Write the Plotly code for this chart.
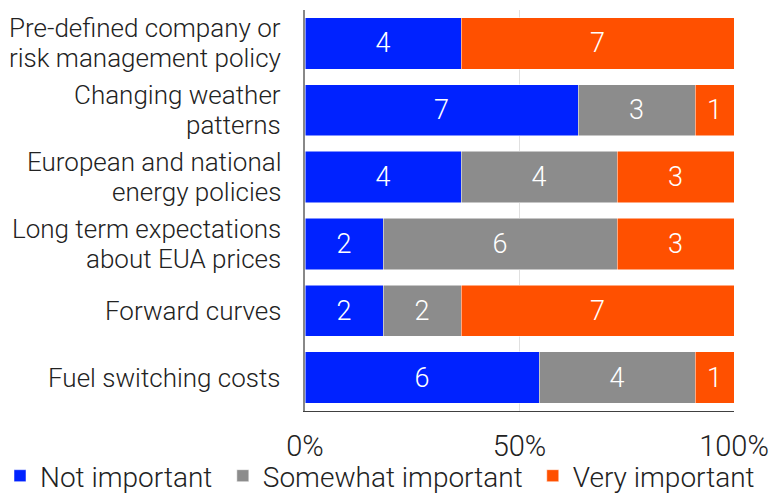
import plotly.graph_objects as go

categories = [
    "Pre-defined company or<br>risk management policy",
    "Changing weather<br>patterns",
    "European and national<br>energy policies",
    "Long term expectations<br>about EUA prices",
    "Forward curves",
    "Fuel switching costs",
]
not_important = [4, 7, 4, 2, 2, 6]
somewhat_important = [0, 3, 4, 6, 2, 4]
very_important = [7, 1, 3, 3, 7, 1]
tick_vals = [0, 50, 100]
tick_text = ["0%", "50%", "100%"]

series = [
    ("Not important", not_important, "#0022FF"),
    ("Somewhat important", somewhat_important, "#8C8C8C"),
    ("Very important", very_important, "#FF5000"),
]
# left edge of each legend entry, as a fraction of the page width
legend_x = [0.0, 0.289, 0.691]

FONT = "Roboto"
TEXT = "#222222"

fig = go.Figure()
for k, (name, vals, color) in enumerate(series):
    fig.add_trace(go.Bar(
        y=categories,
        x=vals,
        name=name,
        orientation="h",
        marker=dict(color=color, line=dict(color="white", width=0.5)),
        text=[str(v) if v else "" for v in vals],
        textposition="inside",
        insidetextanchor="middle",
        textangle=0,
        textfont=dict(color="white", size=27, family=FONT, weight=300),
        hoverinfo="skip",
        legend="legend" if k == 0 else f"legend{k + 1}",
    ))

# Category labels: one annotation per line for tighter line spacing
LINE_GAP = 30
for cat in categories:
    lines = cat.split("<br>")
    n = len(lines)
    for i, line in enumerate(lines):
        offset = ((n - 1) / 2 - i) * LINE_GAP
        fig.add_annotation(
            x=0, xref="paper", y=cat, yref="y",
            text=line, showarrow=False,
            xanchor="right", yanchor="middle",
            xshift=-22, yshift=offset,
            font=dict(family=FONT, size=26, color=TEXT, weight=300),
        )

legend_style = dict(
    orientation="h",
    xref="container", yref="container",
    y=0.0, xanchor="left", yanchor="bottom",
    font=dict(size=28, family=FONT, weight=300, color=TEXT),
    borderwidth=0,
    bgcolor="rgba(0,0,0,0)",
)

fig.update_layout(
    barmode="stack",
    barnorm="percent",
    bargap=0.23,
    width=771,
    height=501,
    margin=dict(l=305, r=37, t=10, b=90, autoexpand=False),
    plot_bgcolor="white",
    paper_bgcolor="white",
    font=dict(family=FONT, size=26, color=TEXT, weight=300),
    showlegend=True,
    legend=dict(x=legend_x[0], **legend_style),
    legend2=dict(x=legend_x[1], **legend_style),
    legend3=dict(x=legend_x[2], **legend_style),
    uniformtext=dict(mode="show", minsize=10),
)
fig.update_xaxes(
    range=[0, 100],
    tickvals=tick_vals,
    ticktext=tick_text,
    showgrid=True,
    gridcolor="#E0E0E0",
    gridwidth=1,
    zeroline=False,
    showline=True,
    linecolor="#404040",
    linewidth=1,
    ticks="",
    ticklabelstandoff=9,
    tickfont=dict(size=29),
)
fig.update_yaxes(
    categoryorder="array",
    categoryarray=categories[::-1],
    autorange=False,
    range=[-0.5, 5.5],
    showline=True,
    linecolor="#888888",
    linewidth=2,
    ticks="",
    showticklabels=False,
)

fig.write_html("out.html")
